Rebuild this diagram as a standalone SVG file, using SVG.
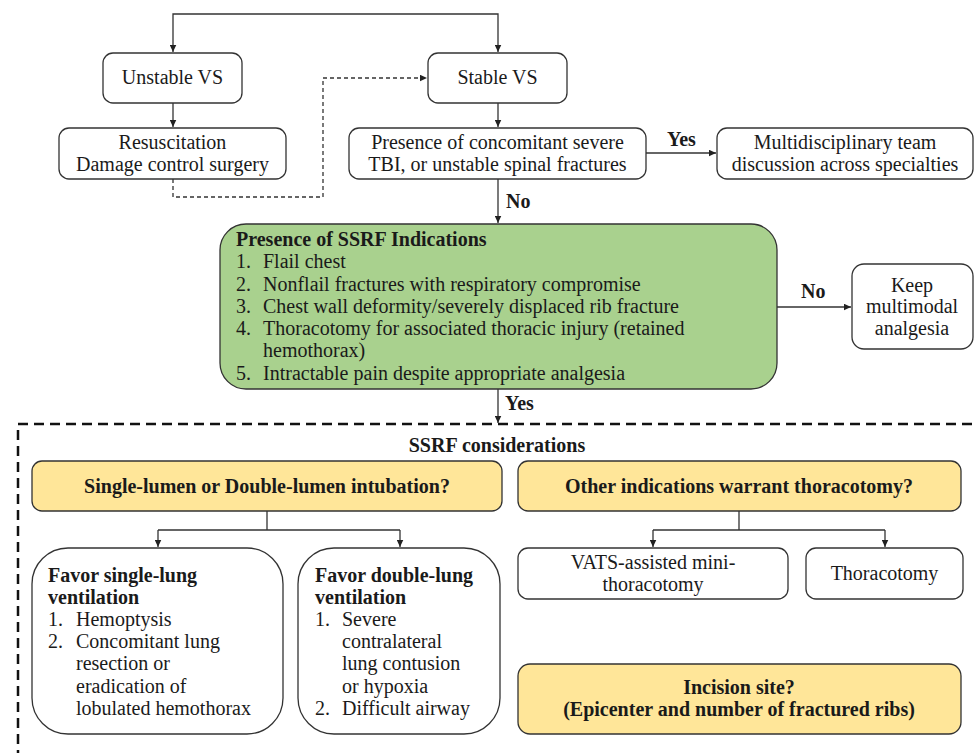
<svg xmlns="http://www.w3.org/2000/svg" width="974" height="753" viewBox="0 0 974 753">
<defs>
<marker id="ah" markerUnits="userSpaceOnUse" markerWidth="8" markerHeight="7" refX="7.5" refY="3.5" orient="auto"><path d="M0,0 L7.5,3.5 L0,7 z" fill="#222"/></marker>
<style>
text{font-family:'Liberation Serif','Times New Roman',serif;font-size:20px;fill:#1a1a1a}
.b{font-weight:bold}
.m{text-anchor:middle}
.box{fill:#fff;stroke:#333;stroke-width:1.3}
.yel{fill:#ffe699;stroke:#333;stroke-width:1.3}
.grn{fill:#a9d18e;stroke:#333;stroke-width:1.3}
.c{fill:none;stroke:#333;stroke-width:1.3}
.ca{fill:none;stroke:#333;stroke-width:1.3;marker-end:url(#ah)}
.d{stroke-dasharray:4,3}
</style>
</defs>
<rect width="974" height="753" fill="#fff"/>
<g id="connectors">
<path class="ca" d="M335,14 H173 V52"/>
<path class="ca" d="M335,14 H498 V52"/>
<path class="ca" d="M173,103 V127"/>
<path class="ca" d="M498,103 V127"/>
<path class="ca d" d="M173,179 V197 H323 V78 H427"/>
<path class="ca" d="M646,153 H716"/>
<path class="ca" d="M498,179 V223"/>
<path class="ca" d="M777,307 H851"/>
<path class="ca" d="M498,389 V423"/>
<path class="c" d="M267,511 V530 M158,530 H400"/>
<path class="ca" d="M158,530 V547"/>
<path class="ca" d="M400,530 V547"/>
<path class="c" d="M739,511 V530 M653,530 H885"/>
<path class="ca" d="M653,530 V547"/>
<path class="ca" d="M885,530 V547"/>
<text class="b" x="667" y="146">Yes</text>
<text class="b" x="506" y="208">No</text>
<text class="b" x="801" y="298">No</text>
<text class="b" x="505" y="410">Yes</text>
</g>
<g id="ssrf-considerations">
<rect x="18" y="424" width="1000" height="400" fill="none" stroke="#111" stroke-width="2.5" stroke-dasharray="10,6"/>
<text class="b m" x="497" y="452">SSRF considerations</text>
</g>
<g id="unstable">
<rect class="box" x="103" y="53" width="139" height="50" rx="10"/>
<text class="m" x="172.5" y="84">Unstable VS</text>
</g>
<g id="stable">
<rect class="box" x="428" y="53" width="139" height="50" rx="10"/>
<text class="m" x="497.5" y="84">Stable VS</text>
</g>
<g id="resuscitation">
<rect class="box" x="59" y="128" width="227" height="51" rx="10"/>
<text class="m" x="172.5" y="149">Resuscitation</text>
<text class="m" x="172.5" y="171">Damage control surgery</text>
</g>
<g id="concomitant">
<rect class="box" x="349" y="128" width="297" height="51" rx="10"/>
<text class="m" x="497.5" y="149">Presence of concomitant severe</text>
<text class="m" x="497.5" y="171">TBI, or unstable spinal fractures</text>
</g>
<g id="multidisciplinary">
<rect class="box" x="717" y="128" width="256" height="51" rx="10"/>
<text class="m" x="845" y="149">Multidisciplinary team</text>
<text class="m" x="845" y="171">discussion across specialties</text>
</g>
<g id="indications">
<rect class="grn" x="220" y="224" width="557" height="165" rx="26"/>
<text class="b" x="236" y="246">Presence of SSRF Indications</text>
<text x="236" y="268">1.</text><text x="263" y="268">Flail chest</text>
<text x="236" y="291">2.</text><text x="263" y="291">Nonflail fractures with respiratory compromise</text>
<text x="236" y="313">3.</text><text x="263" y="313">Chest wall deformity/severely displaced rib fracture</text>
<text x="236" y="335">4.</text><text x="263" y="335">Thoracotomy for associated thoracic injury (retained</text>
<text x="263" y="357">hemothorax)</text>
<text x="236" y="380">5.</text><text x="263" y="380">Intractable pain despite appropriate analgesia</text>
</g>
<g id="keep">
<rect class="box" x="852" y="264" width="121" height="85" rx="12"/>
<text class="m" x="912" y="292">Keep</text>
<text class="m" x="912" y="313">multimodal</text>
<text class="m" x="912" y="335">analgesia</text>
</g>
<g id="intubation">
<rect class="yel" x="32" y="461" width="470" height="50" rx="10"/>
<text class="b m" x="267" y="493">Single-lumen or Double-lumen intubation?</text>
</g>
<g id="thoracotomy-q">
<rect class="yel" x="518" y="461" width="443" height="50" rx="10"/>
<text class="b m" x="739" y="493">Other indications warrant thoracotomy?</text>
</g>
<g id="single-lung">
<rect class="box" x="32" y="548" width="251" height="186" rx="36"/>
<text class="b" x="48" y="582">Favor single-lung</text>
<text class="b" x="48" y="604">ventilation</text>
<text x="48" y="626">1.</text><text x="76" y="626">Hemoptysis</text>
<text x="48" y="648">2.</text><text x="76" y="648">Concomitant lung</text>
<text x="76" y="670">resection or</text>
<text x="76" y="693">eradication of</text>
<text x="76" y="715">lobulated hemothorax</text>
</g>
<g id="double-lung">
<rect class="box" x="298" y="548" width="202" height="186" rx="36"/>
<text class="b" x="315" y="582">Favor double-lung</text>
<text class="b" x="315" y="604">ventilation</text>
<text x="315" y="626">1.</text><text x="342" y="626">Severe</text>
<text x="342" y="648">contralateral</text>
<text x="342" y="670">lung contusion</text>
<text x="342" y="693">or hypoxia</text>
<text x="315" y="715">2.</text><text x="342" y="715">Difficult airway</text>
</g>
<g id="vats">
<rect class="box" x="518" y="548" width="270" height="51" rx="10"/>
<text class="m" x="653" y="569">VATS-assisted mini-</text>
<text class="m" x="653" y="591">thoracotomy</text>
</g>
<g id="thoracotomy">
<rect class="box" x="806" y="548" width="157" height="51" rx="10"/>
<text class="m" x="884.5" y="580">Thoracotomy</text>
</g>
<g id="incision">
<rect class="yel" x="518" y="664" width="443" height="70" rx="12"/>
<text class="b m" x="739" y="694">Incision site?</text>
<text class="b m" x="739" y="716">(Epicenter and number of fractured ribs)</text>
</g>
</svg>
